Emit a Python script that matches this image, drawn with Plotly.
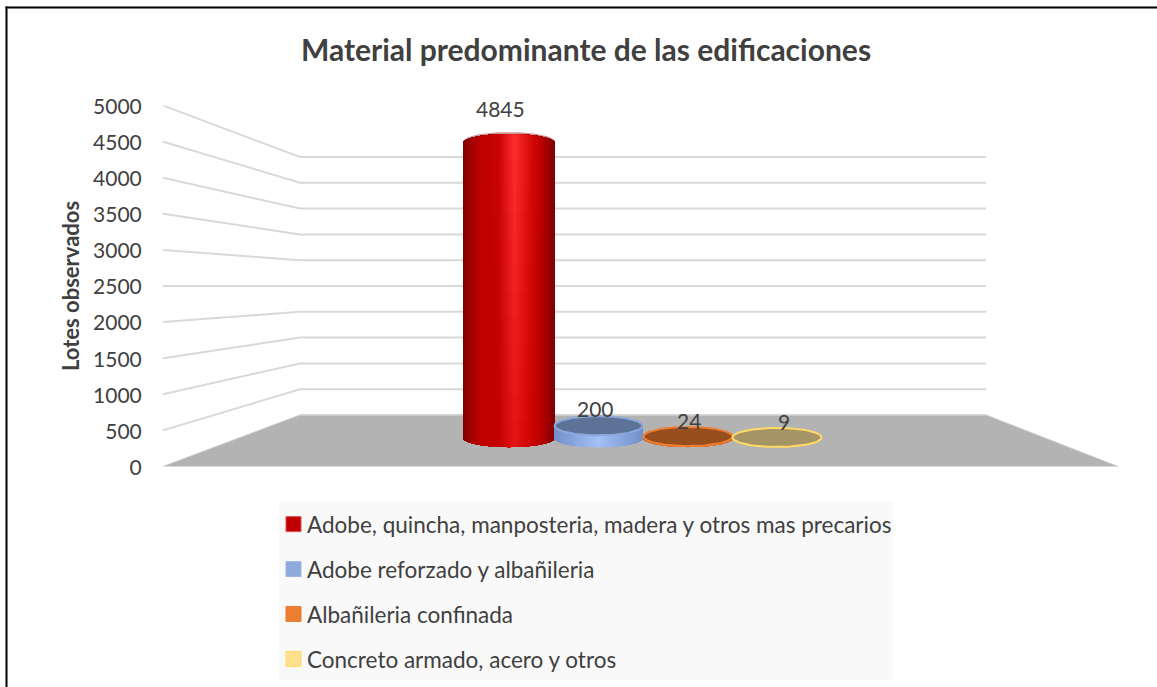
import plotly.graph_objects as go
import numpy as np

# ---- data ----
categories = ["Adobe, quincha, manposteria, madera y otros mas precarios",
              "Adobe reforzado y albañileria",
              "Albañileria confinada",
              "Concreto armado, acero y otros"]
values = [4845, 200, 24, 9]
tick_values = [0, 500, 1000, 1500, 2000, 2500, 3000, 3500, 4000, 4500, 5000]
title_text = "Material predominante de las edificaciones"
y_title = "Lotes observados"

# ---- styles / geometry (pixels of the picture) ----
W, H = 1157, 687
FONT = "Lato"
TEXT = "#404040"
swatch = ["#C00000", "#8EA9DB", "#ED7D31", "#FFE08C"]
swatch_line = ["#E05050", "#9DB6E2", "#ED7D31", "#FFD966"]
cap_fill = ["rgba(0,0,0,0)", "#5C7296", "#964E1E", "#A59465"]
cap_line = ["rgba(130,0,0,0.4)", "#8AA8DC", "#ED7D31", "#FFD966"]
gradients = [
    [(0, "#800000"), (.08, "#A00000"), (.20, "#C00000"), (.38, "#C80202"), (.56, "#FF2E2E"),
     (.74, "#D80A0A"), (.86, "#B80000"), (.95, "#900000"), (1, "#800000")],
    [(0, "#7390C8"), (.5, "#A3C0F8"), (1, "#7390C8")],
    [(0, "#C86020"), (.5, "#ED7D31"), (1, "#C86020")],
    [(0, "#E0C050"), (.5, "#FFD966"), (1, "#E0C050")],
]
red_low_gradient = [(0, "#800000"), (.08, "#A00000"), (.20, "#C00000"), (.38, "#C40000"), (.56, "#E41414"),
                    (.74, "#CC0404"), (.86, "#B80000"), (.95, "#900000"), (1, "#800000")]
centers = [509, 598.5, 688, 777]
widths = [92, 89, 90, 90]
label_x = [500, 595, 689, 784]
label_shift = [32, 15.5, 14.5, 14.5]

FRONT_X, BACK_X, BACK_X2, FRONT_X2 = 163, 300, 986, 1118
PY0, PY5000 = 466.5, 105.5     # front axis
BY0, BY5000 = 415, 157         # back wall
CYL_BASE, CYL_SCALE, RY = 438, 296 / 4845, 9   # cylinders stand mid-floor
SEGMENTS = 12                  # vertical shading steps of a tall cylinder

u = 5000 / (PY0 - PY5000)      # value units per pixel on the front axis


def hex2rgb(c):
    return np.array([int(c[i:i + 2], 16) for i in (1, 3, 5)], float)


def grad_rgb(stops, t):
    ts = [s[0] for s in stops]
    rgb = np.array([hex2rgb(s[1]) for s in stops])
    return np.array([np.interp(t, ts, rgb[:, i]) for i in range(3)])


def css(rgb):
    return "rgb(%d,%d,%d)" % tuple(rgb)


def back_value(t):
    return ((PY0 - BY0) + t * (BY0 - BY5000) / 5000) * u


fig = go.Figure()

# floor
fig.add_trace(go.Scatter(
    x=[FRONT_X, BACK_X, BACK_X2, FRONT_X2, FRONT_X],
    y=[0, back_value(0), back_value(0), 0, 0],
    mode="lines", fill="toself", fillcolor="#B3B3B3",
    line=dict(color="#C8C8C8", width=1), hoverinfo="skip", showlegend=False))

# wall gridlines
gx, gy = [], []
for t in tick_values[1:]:
    gx += [FRONT_X, BACK_X, BACK_X2, None]
    gy += [t, back_value(t), back_value(t), None]
fig.add_trace(go.Scatter(x=gx, y=gy, mode="lines",
                         line=dict(color="#D9D9D9", width=2),
                         hoverinfo="skip", showlegend=False))
# top of floor edge
fig.add_trace(go.Scatter(x=[BACK_X, BACK_X2], y=[back_value(0)] * 2, mode="lines",
                         line=dict(color="#D0D0D0", width=1.5),
                         hoverinfo="skip", showlegend=False))

# cylinders, on an axis of their own scale
ry_v = RY / CYL_SCALE
for i, (name, v) in enumerate(zip(categories, values)):
    c, w = centers[i], widths[i]
    xs = np.arange(c - w / 2 + 0.5, c + w / 2, 1.0)
    d = np.clip((xs - c) / (w / 2), -1, 1)
    curve = np.sqrt(1 - d ** 2) * ry_v
    ts = (xs - (c - w / 2)) / w
    if i == 0:
        # the tall cylinder: its highlight fades towards the floor
        for k in range(SEGMENTS):
            f0, f1 = k / SEGMENTS, (k + 1) / SEGMENTS
            lo = -curve + f0 * (v + 2 * curve)
            hi = -curve + f1 * (v + 2 * curve)
            mix = (f0 + f1) / 2
            cols = [css(mix * grad_rgb(gradients[0], t) + (1 - mix) * grad_rgb(red_low_gradient, t)) for t in ts]
            # slight overlap hides seams between the steps
            fig.add_trace(go.Bar(
                x=xs, y=hi - lo + (8 if k < SEGMENTS - 1 else 0), base=lo, width=1.0, yaxis="y2",
                marker=dict(color=cols, line=dict(width=0)),
                name=name, showlegend=False, hoverinfo="skip"))
    else:
        base = -curve
        top = v + 0 * curve
        fig.add_trace(go.Bar(
            x=xs, y=top - base, base=base, width=1.0, yaxis="y2",
            marker=dict(color=[css(grad_rgb(gradients[i], t)) for t in ts], line=dict(width=0)),
            name=name, showlegend=False, hoverinfo="skip"))

for i, (name, v) in enumerate(zip(categories, values)):
    c, w = centers[i], widths[i]
    th = np.linspace(0, 2 * np.pi, 121)
    if i == 0:
        th = np.linspace(0, np.pi, 61)
    ex = c + (w / 2 - (1 if i == 0 else 0.5)) * np.cos(th)
    ey = v + (ry_v if i == 0 else ry_v * 1.06) * np.sin(th)
    fig.add_trace(go.Scatter(
        x=ex, y=ey, yaxis="y2", mode="lines",
        fill="toself" if i else None, fillcolor=cap_fill[i],
        line=dict(color=cap_line[i], width=2),
        hoverinfo="skip", showlegend=False))

# legend entries
for i, name in enumerate(categories):
    fig.add_trace(go.Scatter(
        x=[None], y=[None], mode="markers", name=name, legendgroup=f"g{i}",
        marker=dict(symbol="square", size=15, color=swatch[i],
                    line=dict(color=swatch_line[i], width=1))))

annotations = []
for i, v in enumerate(values):
    annotations.append(dict(
        x=label_x[i], y=v, xref="x", yref="y2", text=str(v), showarrow=False,
        yanchor="bottom", yshift=label_shift[i] - 13,
        font=dict(family=FONT, size=21, color=TEXT)))

shapes = [
    dict(type="rect", xref="paper", yref="paper", layer="below",
         x0=279 / W, x1=893 / W, y0=1 - 680 / H, y1=1 - 502 / H,
         fillcolor="#F9F9F9", line=dict(width=0)),
    dict(type="line", xref="paper", yref="paper",
         x0=6.5 / W, x1=6.5 / W, y0=0, y1=1 - 6.5 / H, line=dict(color="#000", width=2)),
    dict(type="line", xref="paper", yref="paper",
         x0=5.5 / W, x1=1, y0=1 - 7.5 / H, y1=1 - 7.5 / H, line=dict(color="#000", width=2)),
]

dom_y = [1 - PY0 / H, 1 - PY5000 / H]
fig.update_layout(
    width=W, height=H, margin=dict(l=0, r=0, t=0, b=0, pad=0, autoexpand=False),
    paper_bgcolor="white", plot_bgcolor="rgba(0,0,0,0)",
    barmode="overlay", bargap=0,
    title=dict(text=f"<b>{title_text}</b>", x=586 / W, xanchor="center", xref="paper",
               y=1 - 50 / H, yanchor="middle",
               font=dict(family=FONT, size=30, color=TEXT)),
    xaxis=dict(domain=[FRONT_X / W, FRONT_X2 / W], range=[FRONT_X, FRONT_X2], visible=False),
    yaxis=dict(domain=dom_y, range=[0, 5000], tickvals=tick_values,
               showgrid=False, zeroline=False, showline=False,
               ticks="outside", ticklen=16, tickcolor="rgba(0,0,0,0)",
               ticklabelshift=1,
               tickfont=dict(family=FONT, size=21, color=TEXT),
               title=dict(text=f"<b>{y_title}</b>", standoff=7,
                          font=dict(family=FONT, size=22, color=TEXT))),
    yaxis2=dict(domain=dom_y, overlaying="y", visible=False,
                range=[(CYL_BASE - PY0) / CYL_SCALE, (CYL_BASE - PY5000) / CYL_SCALE]),
    legend=dict(x=267 / W, xanchor="left", y=1 - 503 / H, yanchor="top",
                bgcolor="rgba(0,0,0,0)", tracegroupgap=12.7,
                font=dict(family=FONT, size=22.5, color=TEXT)),
    shapes=shapes, annotations=annotations, font=dict(family=FONT),
)

fig.write_html("out.html", config=dict(displayModeBar=False),
               post_script=("document.body.style.margin='0';"
                            "document.documentElement.style.overflow='hidden';"
                            "document.querySelectorAll('.legendsymbols').forEach("
                            "function(e){e.setAttribute('transform','translate(6.5,0)');});"))
